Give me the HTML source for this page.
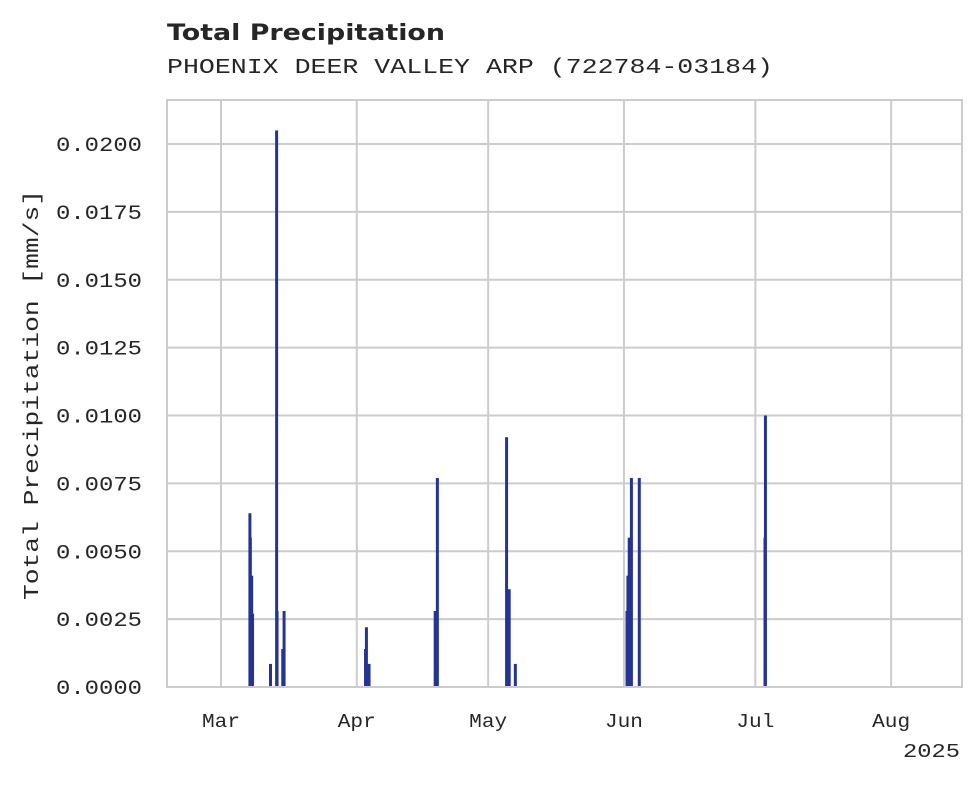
<!DOCTYPE html>
<html><head><meta charset="utf-8"><style>
body{margin:0;background:#fff;}
svg text{fill:#262626;}
</style></head><body>
<svg id="chart" width="980" height="783" xmlns="http://www.w3.org/2000/svg">
<text x="167" y="40" font-family="DejaVu Sans, sans-serif" font-weight="bold" font-size="22" textLength="278" lengthAdjust="spacingAndGlyphs">Total Precipitation</text>
<text x="167" y="73" font-family="Liberation Mono, monospace" font-size="21" textLength="606" lengthAdjust="spacingAndGlyphs">PHOENIX DEER VALLEY ARP (722784-03184)</text>
<g id="grid"></g>
<g id="bars"></g>
<rect x="167" y="100" width="795" height="587" fill="none" stroke="#cccccc" stroke-width="2"/>
<g id="axes"></g>
<text transform="translate(38,395) rotate(-90)" text-anchor="middle" font-family="Liberation Mono, monospace" font-size="21" textLength="410" lengthAdjust="spacingAndGlyphs">Total Precipitation [mm/s]</text>
<text x="960" y="757" text-anchor="end" font-family="Liberation Mono, monospace" font-size="19" textLength="57" lengthAdjust="spacingAndGlyphs">2025</text>
</svg>
<script>
const dayOffsets=[6.6,6.7,7.0,7.2,11.3,12.7,12.8,14.1,14.4,33.0,33.2,33.8,48.9,49.4,65.2,65.8,67.2,92.7,92.9,93.2,93.7,95.5,124.3,124.2];
const values=[0.0064,0.0055,0.0041,0.0027,0.00085,0.0205,0.0028,0.0014,0.0028,0.0014,0.0022,0.00085,0.0028,0.0077,0.0092,0.0036,0.00085,0.0028,0.0041,0.0055,0.0077,0.0077,0.0100,0.0055];
const yTicks=[0,0.0025,0.005,0.0075,0.01,0.0125,0.015,0.0175,0.02];
const yTickLabels=["0.0000","0.0025","0.0050","0.0075","0.0100","0.0125","0.0150","0.0175","0.0200"];
const xTickDays=[0,31,61,92,122,153];
const xTickLabels=["Mar","Apr","May","Jun","Jul","Aug"];
const NS="http://www.w3.org/2000/svg";
const X=d=>221+d*4.38;
const Y=v=>687-v*27150;
function mk(tag,attrs,parent){const e=document.createElementNS(NS,tag);for(const k in attrs)e.setAttribute(k,attrs[k]);parent.appendChild(e);return e;}
const grid=document.getElementById('grid'),bars=document.getElementById('bars'),axes=document.getElementById('axes');
yTicks.forEach((v,i)=>{
  const l=mk('line',{x1:167,x2:962,y1:Y(v),y2:Y(v),stroke:'#cccccc','stroke-width':2},grid);
  
  
  const t=mk('text',{x:142,y:Y(v)+7,'text-anchor':'end','font-family':'Liberation Mono, monospace','font-size':'20',textLength:'86',lengthAdjust:'spacingAndGlyphs'},axes);
  t.textContent=yTickLabels[i];
  
  
});
xTickDays.forEach((d,i)=>{
  const l=mk('line',{x1:X(d),x2:X(d),y1:100,y2:687,stroke:'#cccccc','stroke-width':2},grid);
  
  
  const t=mk('text',{x:X(d),y:727,'text-anchor':'middle','font-family':'Liberation Mono, monospace','font-size':'19',textLength:'38',lengthAdjust:'spacingAndGlyphs'},axes);
  t.textContent=xTickLabels[i];
  
  
});
dayOffsets.forEach((d,i)=>{
  const y=Y(values[i]);
  const r=mk('rect',{x:X(d)-1.5,y:y,width:3,height:687-y,fill:'#253494'},bars);
  
  
});
</script>
</body></html>
